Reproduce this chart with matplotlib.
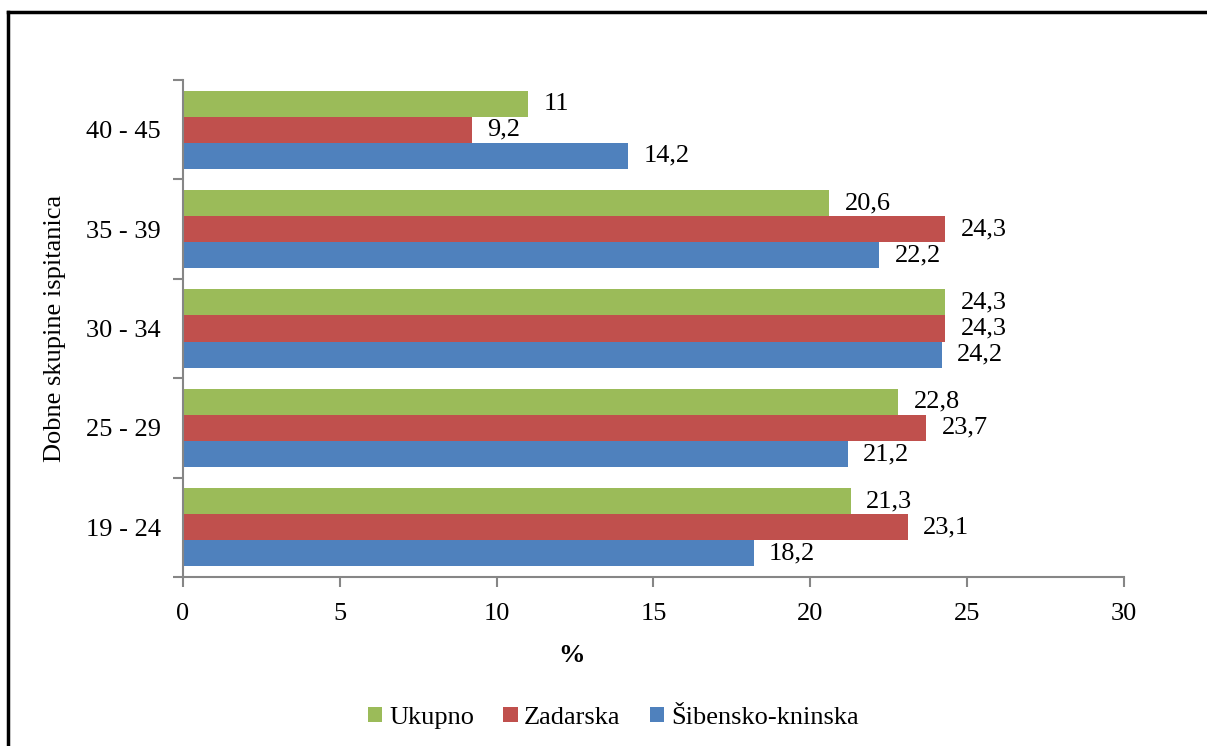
import matplotlib.pyplot as plt
import numpy as np
from matplotlib.lines import Line2D

# data (bottom to top on the chart)
groups = ["19 - 24", "25 - 29", "30 - 34", "35 - 39", "40 - 45"]
ukupno = [21.3, 22.8, 24.3, 20.6, 11]
zadarska = [23.1, 23.7, 24.3, 24.3, 9.2]
sibensko = [18.2, 21.2, 24.2, 22.2, 14.2]
series_names = ["Ukupno", "Zadarska", "Šibensko-kninska"]
colors = ["#9BBB59", "#C0504D", "#4F81BD"]

plt.rcParams["font.family"] = ["Liberation Serif", "DejaVu Serif"]
fs = 19

fig = plt.figure(figsize=(12.07, 7.46), dpi=100)
ax = fig.add_axes([0.1516, 0.2265, 0.9312 - 0.1516, 0.8928 - 0.2265])

y = np.arange(len(groups))
h = 0.262
series = [ukupno, zadarska, sibensko]
offsets = [h, 0, -h]
for vals, off, col, name in zip(series, offsets, colors, series_names):
    bars = ax.barh(y + off, vals, height=h, color=col, label=name)
    for b, v in zip(bars, vals):
        txt = ("%g" % v).replace(".", ",")
        ax.annotate(txt, (b.get_width(), b.get_y() + b.get_height() / 2),
                    xytext=(11, 0), textcoords="offset points",
                    va="center", ha="left", fontsize=fs)

ax.set_xlim(0, 30)
ax.set_ylim(-0.5, len(groups) - 0.5)
ax.set_xticks(np.arange(0, 31, 5))
ax.set_yticks(np.arange(-0.5, len(groups), 1))
ax.set_yticklabels([])
ax.set_yticks(y, minor=True)
ax.set_yticklabels(groups, minor=True)
ax.tick_params(axis="y", which="minor", length=0, pad=16, labelsize=fs)
ax.tick_params(axis="y", which="major", length=7, color="#868686", width=1.5, direction="out")
ax.tick_params(axis="x", length=7, color="#868686", width=1.5, direction="out", pad=12, labelsize=fs)

for s in ["top", "right"]:
    ax.spines[s].set_visible(False)
for s in ["left", "bottom"]:
    ax.spines[s].set_color("#868686")
    ax.spines[s].set_linewidth(1.5)

ax.set_xlabel("%", fontsize=fs, fontweight="bold", labelpad=14)
ax.xaxis.set_label_coords(0.413, -0.135)
ax.set_ylabel("Dobne skupine ispitanica", fontsize=fs, labelpad=14)

handles, labels = ax.get_legend_handles_labels()
fig.legend(handles, labels, loc="center", bbox_to_anchor=(0.508, 0.038), ncol=3,
           frameon=False, fontsize=fs, handlelength=0.55, handleheight=0.55,
           handletextpad=0.25, columnspacing=1.1)

# outer chart frame (left and top edges visible)
fig.add_artist(Line2D([8 / 1207, 8 / 1207], [0, 1 - 12 / 746], color="black", lw=2.5))
fig.add_artist(Line2D([8 / 1207, 1], [1 - 12 / 746, 1 - 12 / 746], color="black", lw=2.5))

fig.savefig("out.png", dpi=100)
